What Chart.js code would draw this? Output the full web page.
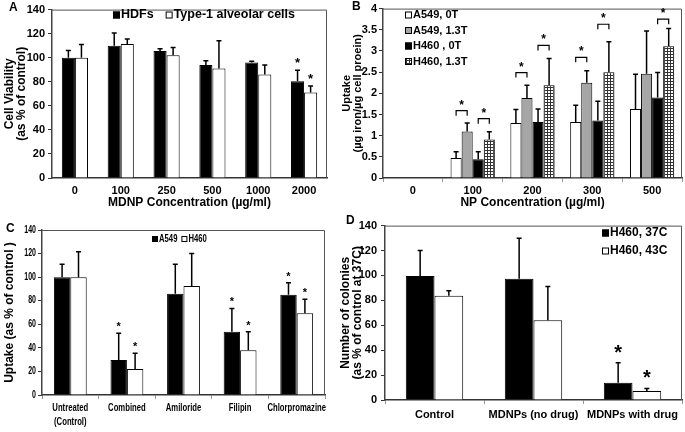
<!DOCTYPE html>
<html>
<head>
<meta charset="utf-8">
<script src="https://cdn.jsdelivr.net/npm/chart.js@4.4.0/dist/chart.umd.min.js"></script>
<style>
  body { margin: 0; background: #fff; }
  #wrap { position: relative; width: 685px; height: 432px; overflow: hidden; }
  canvas { position: absolute; }
  .tag { position: absolute; font: bold 12px 'Liberation Sans', Arial, sans-serif; color: #000; }
</style>
</head>
<body>
<div id="wrap">
  <canvas id="cA" width="340" height="215" style="left:0;top:0"></canvas>
  <canvas id="cB" width="345" height="215" style="left:340px;top:0"></canvas>
  <canvas id="cC" width="340" height="217" style="left:0;top:215px"></canvas>
  <canvas id="cD" width="345" height="217" style="left:340px;top:215px"></canvas>
  <div class="tag" style="left:9px;top:0">A</div>
  <div class="tag" style="left:352px;top:-1px">B</div>
  <div class="tag" style="left:6px;top:221px">C</div>
  <div class="tag" style="left:346px;top:213px">D</div>
</div>
<script>
// ---- panel A : cell viability ----
const concA = ['0', '100', '250', '500', '1000', '2000'];
const hdfs = [100, 110, 105.5, 94, 96, 80.5];
const hdfsErr = [106, 120.5, 107.5, 97.5, 97, 89.5];
const type1 = [100, 111.5, 102, 91, 86, 71];
const type1Err = [111, 115.5, 108.5, 114, 94, 76.5];
const starsA = [0, 0, 0, 0, 0, 1];

// ---- panel B : iron uptake ----
const concB = ['0', '100', '200', '300', '500'];
const a549_0T = [null, 0.47, 1.30, 1.32, 1.63];
const a549_0TErr = [null, 0.62, 1.62, 1.72, 2.45];
const a549_13T = [null, 1.10, 1.89, 2.25, 2.46];
const a549_13TErr = [null, 1.30, 2.19, 2.53, 3.47];
const h460_0T = [null, 0.44, 1.32, 1.36, 1.90];
const h460_0TErr = [null, 0.62, 1.63, 1.81, 2.49];
const h460_13T = [null, 0.91, 2.19, 2.50, 3.11];
const h460_13TErr = [null, 1.09, 2.82, 3.22, 3.53];
// [category, dataset from, dataset to, level]
const bracketsB = [[1, 0, 1, 1.59], [1, 2, 3, 1.40], [2, 0, 1, 2.49], [2, 2, 3, 3.13],
                   [3, 0, 1, 2.85], [3, 2, 3, 3.63], [4, 2, 3, 3.75]];

// ---- panel C : uptake with inhibitors ----
const treatC = [['Untreated', '(Control)'], 'Combined', 'Amiloride', 'Filipin', 'Chlorpromazine'];
const a549C = [100, 29.7, 86, 53.7, 85];
const a549CErr = [111, 52.3, 111, 73.5, 95.3];
const h460C = [100, 22, 92.5, 38, 69.3];
const h460CErr = [121.5, 35.4, 120, 53.7, 81.2];
const starsC = [0, 1, 0, 1, 1];

// ---- panel D : colonies ----
const groupsD = ['Control', 'MDNPs (no drug)', 'MDNPs with drug'];
const h460_37 = [99.5, 97.3, 13.9];
const h460_37Err = [120, 129.9, 29.9];
const h460_43 = [83.7, 64, 7.2];
const h460_43Err = [87.7, 91.2, 9.3];
const starsD = [0, 0, 1];

const FONT = "'Liberation Sans', Arial, sans-serif";
Chart.defaults.font.family = FONT;
Chart.defaults.font.weight = 'bold';
Chart.defaults.color = '#000';

function gridPattern() {
  const c = document.createElement('canvas');
  c.width = 3; c.height = 3;
  const g = c.getContext('2d');
  g.fillStyle = '#fff'; g.fillRect(0, 0, 3, 3);
  g.fillStyle = '#333'; g.fillRect(0, 0, 3, 1); g.fillRect(0, 0, 1, 3);
  return g.createPattern(c, 'repeat');
}

// text squeezed horizontally (panel C uses a condensed face)
function squeezed(ctx, text, x, y, sx) {
  ctx.save();
  ctx.translate(x, y);
  ctx.scale(sx, 1);
  ctx.fillText(text, 0, 0);
  ctx.restore();
}

// error bars, stars, brackets, frame, legend, condensed tick labels
const extras = {
  id: 'extras',
  afterDatasetsDraw(chart, args, o) {
    const ctx = chart.ctx, ys = chart.scales.y, xs = chart.scales.x, a = chart.chartArea;
    ctx.save();
    ctx.strokeStyle = '#555'; ctx.lineWidth = 1;
    ctx.beginPath();
    ctx.moveTo(a.left, a.top + 0.5);
    ctx.lineTo(a.right - 0.5, a.top + 0.5);
    ctx.lineTo(a.right - 0.5, a.bottom);
    ctx.stroke();

    ctx.strokeStyle = '#000'; ctx.fillStyle = '#000';
    ctx.textAlign = 'center'; ctx.textBaseline = 'alphabetic';
    chart.data.datasets.forEach((ds, i) => {
      chart.getDatasetMeta(i).data.forEach((bar, j) => {
        if (ds.err[j] == null) return;
        const yt = ys.getPixelForValue(ds.err[j]);
        ctx.lineWidth = 1.5;
        ctx.beginPath();
        ctx.moveTo(bar.x, bar.y); ctx.lineTo(bar.x, yt);
        ctx.moveTo(bar.x - o.cap, yt); ctx.lineTo(bar.x + o.cap, yt);
        ctx.stroke();
        if (ds.stars && ds.stars[j]) {
          ctx.font = o.starFont;
          ctx.fillText('*', bar.x, yt - o.starGap);
        }
      });
    });

    (o.brackets || []).forEach(([c, d1, d2, lev]) => {
      const x1 = chart.getDatasetMeta(d1).data[c].x;
      const x2 = chart.getDatasetMeta(d2).data[c].x;
      const yb = ys.getPixelForValue(lev);
      ctx.lineWidth = 1.2;
      ctx.beginPath();
      ctx.moveTo(x1, yb + 5); ctx.lineTo(x1, yb); ctx.lineTo(x2, yb); ctx.lineTo(x2, yb + 5);
      ctx.stroke();
      ctx.font = o.starFont;
      ctx.fillText('*', (x1 + x2) / 2, yb + o.bracketStarGap);
    });

    const sx = o.sx || 1;
    if (o.narrow) {
      const n = o.narrow;
      ctx.textBaseline = 'middle';
      ctx.font = n.xFont; ctx.textAlign = 'center';
      chart.data.labels.forEach((lab, i) => {
        [].concat(lab).forEach((t, k) => squeezed(ctx, t, xs.getPixelForTick(i), xs.top + n.xY + k * n.xLh, sx));
      });
      ctx.font = n.yFont; ctx.textAlign = 'right';
      ys.ticks.forEach(t => squeezed(ctx, String(t.value), a.left - n.yGap, ys.getPixelForValue(t.value), sx));
    }

    const L = o.legend;
    ctx.font = L.font; ctx.textAlign = 'left'; ctx.textBaseline = 'middle';
    let lx = L.x, ly = L.y;
    chart.data.datasets.forEach(ds => {
      ctx.fillStyle = ds.backgroundColor;
      ctx.fillRect(lx, ly - L.box / 2, L.box, L.box);
      ctx.lineWidth = 1; ctx.strokeStyle = '#000';
      ctx.strokeRect(lx + 0.5, ly - L.box / 2 + 0.5, L.box - 1, L.box - 1);
      ctx.fillStyle = '#000';
      squeezed(ctx, ds.label, lx + L.box + 1, ly, sx);
      if (L.vertical) ly += L.step;
      else lx += L.box + 1 + ctx.measureText(ds.label).width * sx + L.step;
    });
    ctx.restore();
  }
};

function panel(id, o) {
  return new Chart(document.getElementById(id), {
    type: 'bar',
    data: { labels: o.labels, datasets: o.datasets },
    options: {
      responsive: false,
      animation: false,
      layout: { padding: o.pad },
      datasets: { bar: { categoryPercentage: o.cat, barPercentage: 1, borderColor: '#000', borderWidth: 1 } },
      plugins: { legend: { display: false }, tooltip: { enabled: false }, extras: o.extras },
      scales: {
        x: {
          afterFit: s => { s.height = o.xHeight; },
          grid: { display: o.xTicks, drawOnChartArea: false, tickLength: 4, color: '#999' },
          border: { color: '#333', width: 1.5 },
          ticks: { display: !o.extras.narrow, font: { size: 11 }, padding: o.xPad, maxRotation: 0, autoSkip: false },
          title: o.xTitle
            ? { display: true, text: o.xTitle, font: { size: 12, lineHeight: 1 }, padding: { top: 0, bottom: 6 } }
            : { display: false }
        },
        y: {
          min: 0, max: o.yMax,
          afterFit: s => { s.width = o.yWidth; },
          grid: { drawOnChartArea: false, tickLength: 4, color: '#333' },
          border: { color: '#444', width: 1.5 },
          ticks: { display: !o.extras.narrow, stepSize: o.yStep, font: { size: 11 }, padding: o.yPad, callback: v => String(v) },
          title: { display: true, text: o.yTitle, font: o.yTitleFont, padding: { top: o.yTitlePad, bottom: 0 } }
        }
      }
    },
    plugins: [extras]
  });
}

panel('cA', {
  labels: concA,
  datasets: [
    { label: 'HDFs', data: hdfs, err: hdfsErr, stars: starsA, backgroundColor: '#000' },
    { label: 'Type-1 alveolar cells', data: type1, err: type1Err, stars: starsA, backgroundColor: '#fff' }
  ],
  pad: { top: 8, right: 13, left: 0, bottom: 0 },
  cat: 0.57, xHeight: 37, yWidth: 52, yMax: 140, yStep: 20,
  xPad: 2, xTicks: false, xTitle: 'MDNP Concentration (\u00b5g/ml)',
  yPad: 3,
  yTitle: ['Cell Viability', '(as % of control)'], yTitleFont: { size: 12, lineHeight: 1 }, yTitlePad: 4,
  extras: { cap: 2.5, starFont: 'bold 13px ' + FONT, starGap: 3,
            legend: { x: 113, y: 15, box: 7, step: 12, font: 'bold 12.5px ' + FONT, vertical: false } }
});

panel('cB', {
  labels: concB,
  datasets: [
    { label: 'A549, 0T', data: a549_0T, err: a549_0TErr, backgroundColor: '#fff' },
    { label: 'A549, 1.3T', data: a549_13T, err: a549_13TErr, backgroundColor: '#a6a6a6' },
    { label: 'H460 , 0T', data: h460_0T, err: h460_0TErr, backgroundColor: '#000' },
    { label: 'H460, 1.3T', data: h460_13T, err: h460_13TErr, backgroundColor: gridPattern() }
  ],
  pad: { top: 7, right: 3, left: 0, bottom: 0 },
  cat: 0.74, xHeight: 37, yWidth: 43, yMax: 4, yStep: 0.5,
  xPad: 2, xTicks: true, xTitle: 'NP Concentration (\u00b5g/ml)',
  yPad: 2,
  yTitle: ['Uptake', '(\u00b5g iron/\u00b5g cell proein)'], yTitleFont: { size: 11, lineHeight: 1 }, yTitlePad: 1.5,
  extras: { cap: 2.5, starFont: 'bold 12px ' + FONT, starGap: 3, brackets: bracketsB, bracketStarGap: -2,
            legend: { x: 65, y: 15, box: 7, step: 15.5, font: 'bold 11px ' + FONT, vertical: true } }
});

panel('cC', {
  labels: treatC,
  datasets: [
    { label: 'A549', data: a549C, err: a549CErr, stars: starsC, backgroundColor: '#000' },
    { label: 'H460', data: h460C, err: h460CErr, stars: starsC, backgroundColor: '#fff' }
  ],
  pad: { top: 15, right: 15, left: 0, bottom: 0 },
  cat: 0.58, xHeight: 37, yWidth: 42, yMax: 140, yStep: 20,
  xPad: 3, xTicks: true, xTitle: null,
  yPad: 2,
  yTitle: 'Uptake (as % of control )', yTitleFont: { size: 12, lineHeight: 1 }, yTitlePad: 4,
  extras: { cap: 2.5, starFont: 'bold 11px ' + FONT, starGap: 3, sx: 0.7,
            narrow: { xFont: 'bold 11px ' + FONT, xY: 13, xLh: 14, yFont: 'bold 10px ' + FONT, yGap: 6 },
            legend: { x: 152, y: 24, box: 6, step: 4, font: 'bold 11px ' + FONT, vertical: false } }
});

panel('cD', {
  labels: groupsD,
  datasets: [
    { label: 'H460, 37C', data: h460_37, err: h460_37Err, stars: starsD, backgroundColor: '#000' },
    { label: 'H460, 43C', data: h460_43, err: h460_43Err, stars: starsD, backgroundColor: '#fff' }
  ],
  pad: { top: 10, right: 3, left: 0, bottom: 0 },
  cat: 0.58, xHeight: 32, yWidth: 45, yMax: 140, yStep: 20,
  xPad: 4, xTicks: true, xTitle: null,
  yPad: 4,
  yTitle: ['Number of colonies', '(as % of control at 37C)'], yTitleFont: { size: 12, lineHeight: 1 }, yTitlePad: 0,
  extras: { cap: 2.5, starFont: 'bold 20px ' + FONT, starGap: 4,
            legend: { x: 262, y: 18, box: 7, step: 18, font: 'bold 12px ' + FONT, vertical: true } }
});
</script>
</body>
</html>
